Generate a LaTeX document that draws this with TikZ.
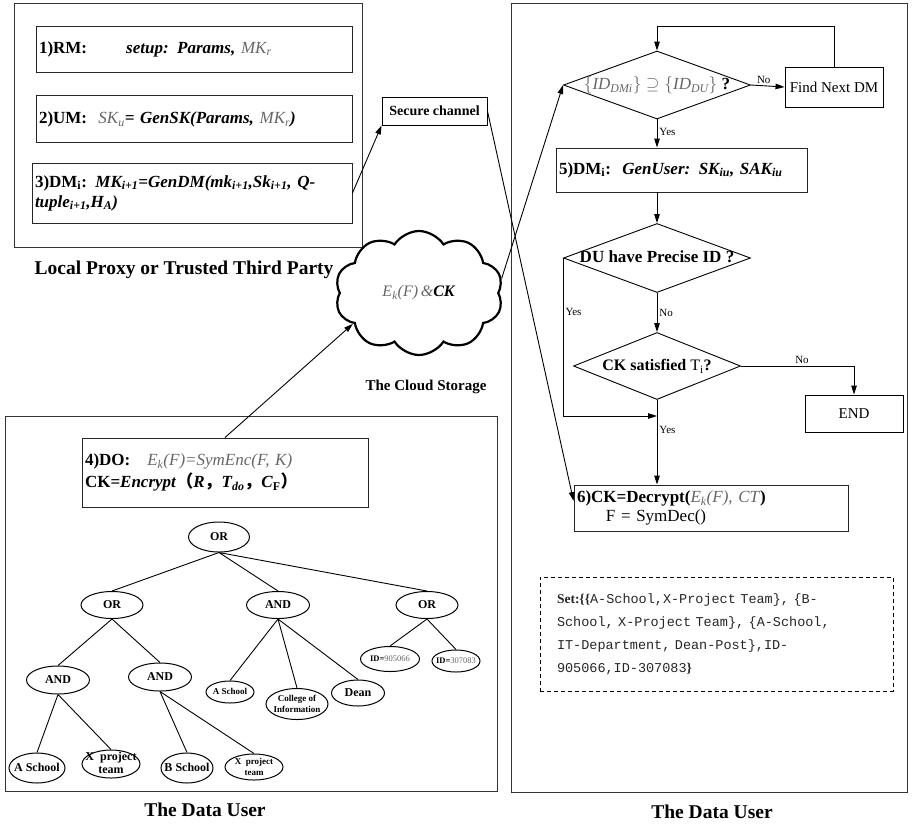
\documentclass[tikz,border=0pt]{standalone}
\usepackage{fontspec}
\setmainfont{Liberation Serif}
\setmonofont{Liberation Mono}
\newfontfamily\cjk{Noto Sans CJK SC}
\usetikzlibrary{positioning, arrows.meta, shapes.geometric, shapes.symbols}

\newcommand{\gr}[1]{\textcolor{black!60}{#1}}
\newcommand{\tightlbl}[1]{\smash{\raisebox{-0.3em}{\makebox[0pt]{\begin{tabular}{@{}c@{}}#1\end{tabular}}}}}

\begin{document}
\begin{tikzpicture}[
  x=1pt, y=-1pt,
  >={Triangle[length=9pt, width=5.5pt]},
  frame/.style={draw=black!80, line width=1pt, inner sep=0pt},
  stepbox/.style={draw=black!85, line width=0.9pt, align=left, inner sep=3pt, font=\fontsize{17}{20}\selectfont},
  cond/.style={diamond, draw, line width=0.9pt, inner sep=0pt, font=\fontsize{17}{20}\selectfont},
  plainbox/.style={draw, line width=0.9pt, align=center, inner sep=2pt, font=\fontsize{15}{18}\selectfont},
  gate/.style={ellipse, draw, line width=1pt, inner sep=0pt, minimum width=62pt, minimum height=27pt, font=\fontsize{12}{12}\selectfont\bfseries},
  leaf/.style={ellipse, draw, line width=1pt, inner sep=0pt, font=\fontsize{12}{12.5}\selectfont\bfseries},
  yn/.style={font=\fontsize{11}{12}\selectfont, inner sep=2pt},
  caption/.style={font=\fontsize{19.5}{22}\selectfont\bfseries},
  arr/.style={->, line width=0.9pt},
  branch/.style={line width=0.9pt},
]
\useasboundingbox (0,0) rectangle (912,823);

% ---- the three frames ----
\node[frame, minimum width=348pt, minimum height=244pt] (lpframe) at (188,125) {};
\node[frame, minimum width=492pt, minimum height=375pt] (doframe) at (251,603.5) {};
\node[frame, minimum width=396pt, minimum height=789pt] (duframe) at (709,397.5) {};

\node[caption] (lpcap) at (184,270) {Local Proxy or Trusted Third Party};
\node[caption, font=\fontsize{15}{18}\selectfont\bfseries] (cscap) at (426,387) {The Cloud Storage};
\node[caption] (docap) at (205,810) {The Data User};
\node[caption] (ducap) at (712,812) {The Data User};

% ---- local proxy steps ----
\node[stepbox, text width=310pt, minimum height=46pt] (rm) at (194,49) {\textbf{1)RM:}\hspace{2.3em}\textbf{\textit{setup: Params,}} \gr{\textit{MK\textsubscript{r}}}};
\node[stepbox, text width=310pt, minimum height=47pt, below=23pt of rm] (um) {\textbf{2)UM:}\ \ \gr{\textit{SK\textsubscript{u}}}\textbf{\textit{= GenSK(Params,}} \gr{\textit{MK\textsubscript{r}}}\textbf{\textit{)}}};
\node[stepbox, text width=314pt, minimum height=60pt] (dm) at (192,193) {\textbf{3)DM\textsubscript{i}:} \textbf{\textit{MK\textsubscript{i+1}=GenDM(mk\textsubscript{i+1},Sk\textsubscript{i+1}, Q-}}\\\textbf{\textit{tuple\textsubscript{i+1},H\textsubscript{A})}}};

\node[plainbox, font=\fontsize{14}{16}\selectfont\bfseries, minimum width=105pt, minimum height=28pt] (sec) at (434.5,111) {Secure channel};

% ---- cloud ----
\node[cloud, cloud puffs=10, cloud puff arc=115, aspect=1.35, draw, line width=2.2pt, minimum width=168pt, minimum height=124pt, font=\fontsize{16}{18}\selectfont] (store) at (419,293) {\gr{\textit{E\textsubscript{k}(F)\,\&}}\textbf{\textit{CK}}};

% ---- data owner ----
\node[stepbox, text width=280pt, minimum height=69pt, font=\fontsize{17}{22}\selectfont] (do) at (225,472.5) {\textbf{4)DO:}\quad\gr{\textit{E\textsubscript{k}(F)=SymEnc(F, K)}}\\\textbf{CK=\textit{Encrypt}{\cjk （}\textit{R}{\cjk ，}\textit{T\textsubscript{do}}{\cjk ，}\textit{C}\textsubscript{F}{\cjk ）}}};

% access tree
\node[gate, minimum width=61pt, minimum height=30pt] (root) at (219,537) {OR};
\node[gate] (orA) at (112,605) {OR};
\node[gate, minimum width=63pt] (andM) at (278,605) {AND};
\node[gate] (orR) at (427,605) {OR};
\node[gate, minimum width=63pt, minimum height=28pt] (andA) at (58,680) {AND};
\node[gate, minimum width=63pt, minimum height=28pt] (andB) at (160,677) {AND};
\node[leaf, minimum width=48pt, minimum height=22pt, font=\fontsize{9}{9}\selectfont\bfseries] (aschM) at (230,692) {\tightlbl{A School}};
\node[leaf, minimum width=62pt, minimum height=31pt, font=\fontsize{9}{11}\selectfont\bfseries] (coll) at (297,704) {\tightlbl{College of\\Information}};
\node[leaf, minimum width=53pt, minimum height=26pt] (dean) at (358,693) {\tightlbl{Dean}};
\node[leaf, minimum width=59pt, minimum height=25pt, font=\fontsize{8.5}{9}\selectfont\bfseries] (id1) at (390,659) {\tightlbl{ID=\gr{\mdseries 905066}}};
\node[leaf, minimum width=48pt, minimum height=22pt, font=\fontsize{8.5}{9}\selectfont\bfseries] (id2) at (456,661) {\tightlbl{ID=\gr{\mdseries 307083}}};
\node[leaf, minimum width=56pt, minimum height=30pt] (aschL) at (37,768) {\tightlbl{A School}};
\node[leaf, minimum width=58pt, minimum height=28pt] (xptA) at (111,764) {\tightlbl{X\ \ project\\team}};
\node[leaf, minimum width=52pt, minimum height=30pt] (bsch) at (187,768) {\tightlbl{B School}};
\node[leaf, minimum width=58pt, minimum height=26pt, font=\fontsize{9}{11}\selectfont\bfseries] (xptB) at (254,767) {\tightlbl{X\ \ project\\team}};

\draw[branch] (root.south) -- (orA.north) (root.south) -- (andM.north) (root.south) -- (orR.north);
\draw[branch] (orA.south) -- (andA.north) (orA.south) -- (andB.north);
\draw[branch] (andM.south) -- (aschM.north) (andM.south) -- (coll.north) (andM.south) -- (dean.north);
\draw[branch] (orR.south) -- (id1.north) (orR.south) -- (id2.north);
\draw[branch] (andA.south) -- (aschL.north) (andA.south) -- (xptA.north);
\draw[branch] (andB.south) -- (bsch.north) (andB.south) -- (xptB.north);

% ---- data user flow ----
\node[cond, minimum width=187pt, minimum height=68pt] (idchk) at (657,85) {\tightlbl{\gr{$\{$\textit{ID\textsubscript{DMi}}$\}\supseteq\{$\textit{ID\textsubscript{DU}}$\}$} \textbf{?}}};
\node[plainbox, minimum width=98pt, minimum height=40pt] (nextdm) at (834,87) {Find Next DM};
\node[stepbox, text width=245pt, minimum height=44pt] (genu) at (681.5,170) {\textbf{5)DM\textsubscript{i}:}\ \ \textbf{\textit{GenUser: SK\textsubscript{iu}, SAK\textsubscript{iu}}}};
\node[cond, minimum width=187pt, minimum height=69pt, font=\fontsize{17}{20}\selectfont\bfseries] (precise) at (657,258) {\tightlbl{DU have Precise ID ?}};
\node[cond, minimum width=167pt, minimum height=67pt, font=\fontsize{16}{20}\selectfont] (sat) at (657,366) {\tightlbl{\textbf{CK satisfied} T\textsubscript{i}\textbf{?}}};
\node[plainbox, minimum width=98pt, minimum height=37pt] (endn) at (854,413.5) {END};
\coordinate (mrg) at (657,416);
\node[stepbox, text width=268pt, minimum height=46pt, font=\fontsize{17}{19}\selectfont] (dec) at (711,508) {\textbf{6)CK=Decrypt(}\gr{\textit{E\textsubscript{k}(F), CT}}\textbf{)}\\\hspace{1.7em}F = SymDec()};
\node[draw, dashed, dash pattern=on 4pt off 3pt, line width=0.9pt, minimum width=353pt, minimum height=114pt, text width=319pt, inner xsep=17pt, align=left, font=\fontsize{13.5}{23}\selectfont\ttfamily\color{black!85}] (setbox) at (716.5,634) {\textbf{\rmfamily Set:\{\{}A-School,X-Project Team\}, \{B-\\School, X-Project Team\}, \{A-School,\\IT-Department, Dean-Post\},ID-\\905066,ID-307083\textbf{\rmfamily\}}};

% ---- connectors ----
\draw[arr] (dm.east) -- (sec.south west);
\draw[arr] (sec.east) -- ([yshift=7pt]dec.west);
\draw[arr] (do.north) -- (store.205);
\draw[arr] (store.10) -- (idchk.west);
\draw[arr] (idchk.east) -- node[yn, above, pos=0.38] {No} (nextdm.west);
\draw[arr] (nextdm.north) -- ++(0,-40) -| (idchk.north);
\draw[arr] (idchk.south) -- node[yn, right, pos=0.45] {Yes} (idchk.south |- genu.north);
\draw[arr] (idchk.south |- genu.south) -- (precise.north);
\draw[arr] (precise.west) |- node[yn, right, pos=0.17] {Yes} (mrg);
\draw[arr] (precise.south) -- node[yn, right] {No} (sat.north);
\draw[arr] (sat.east) -| node[yn, above, pos=0.27] {No} (endn.north);
\draw[arr] (sat.south) -- node[yn, right, pos=0.36] {Yes} (sat.south |- dec.north);

\end{tikzpicture}
\end{document}
